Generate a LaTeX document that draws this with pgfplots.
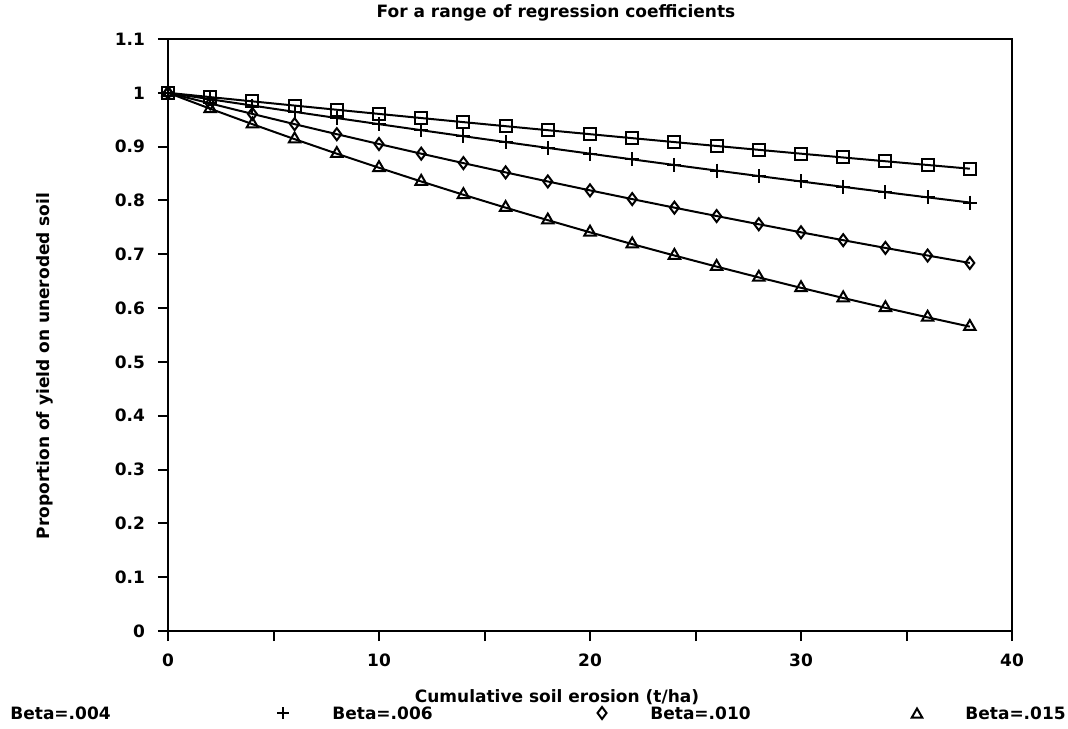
\documentclass[border=0pt]{standalone}
\usepackage{fontspec}
\setmainfont{DejaVu Sans}
\usepackage{pgfplots}
\usepackage{pgfplotstable}
\pgfplotsset{compat=1.18}

% proportion of yield, x = cumulative erosion (t/ha)
\pgfplotstableread{
x   b004    b006    b010    b015
0   1.00000 1.00000 1.00000 1.00000
2   0.99203 0.98807 0.98020 0.97045
4   0.98413 0.97629 0.96079 0.94176
6   0.97629 0.96464 0.94176 0.91393
8   0.96851 0.95313 0.92312 0.88692
10  0.96079 0.94176 0.90484 0.86071
12  0.95313 0.93053 0.88692 0.83527
14  0.94554 0.91943 0.86936 0.81058
16  0.93800 0.90846 0.85214 0.78663
18  0.93053 0.89762 0.83527 0.76338
20  0.92312 0.88692 0.81873 0.74082
22  0.91576 0.87634 0.80252 0.71892
24  0.90846 0.86589 0.78663 0.69768
26  0.90122 0.85556 0.77105 0.67706
28  0.89404 0.84535 0.75578 0.65705
30  0.88692 0.83527 0.74082 0.63763
32  0.87985 0.82531 0.72615 0.61878
34  0.87284 0.81546 0.71177 0.60050
36  0.86589 0.80574 0.69768 0.58275
38  0.85899 0.79612 0.68386 0.56553
}\yielddata

\newcommand{\legmark}[1]{\tikz{\pgfsetplotmarksize{3pt}\pgfsetlinewidth{1pt}\pgfuseplotmark{#1}}}

\begin{document}
\begin{tikzpicture}[font=\bfseries\fontsize{8.5}{10}\selectfont]
\useasboundingbox (-84pt,-48.5pt) rectangle (450pt,315.5pt);
\begin{axis}[
    at={(0pt,0pt)}, anchor=south west,
    scale only axis,
    width=422pt, height=296pt,
    xmin=0, xmax=40, ymin=0, ymax=1.1,
    axis line style={line width=1.1pt},
    tick align=outside,
    xtick pos=bottom, ytick pos=left,
    tick style={line width=1pt, black},
    major tick length=5pt,
    xtick={0,5,...,40},
    xticklabels={0,,10,,20,,30,,40},
    ytick={0,0.1,...,1.1},
    yticklabels={0,0.1,0.2,0.3,0.4,0.5,0.6,0.7,0.8,0.9,1,1.1},
    /pgf/number format/assume math mode=true,
    xticklabel style={yshift=-3pt},
    yticklabel style={xshift=-3pt},
    every axis plot/.append style={black, line width=1pt, mark size=3pt,
        mark options={solid, line width=1pt}},
]
\addplot[mark=square] table[x=x, y=b004] {\yielddata};
\addplot[mark=+, mark size=3.5pt] table[x=x, y=b006] {\yielddata};
\addplot[mark=diamond] table[x=x, y=b010] {\yielddata};
\addplot[mark=triangle, mark size=3.3pt] table[x=x, y=b015] {\yielddata};
\end{axis}
\node at (194pt,309pt) {For a range of regression coefficients};
\node[rotate=90] at (-61.5pt,132.5pt) {Proportion of yield on uneroded soil};
\node at (194.5pt,-33pt) {Cumulative soil erosion (t/ha)};
% legend row
\node[anchor=west, inner sep=0pt] at (-79pt,-41pt) {Beta=.004};
\node[inner sep=0pt] at (57.5pt,-41pt) {\legmark{+}};
\node[anchor=west, inner sep=0pt] at (82pt,-41pt) {Beta=.006};
\node[inner sep=0pt] at (217pt,-41pt) {\legmark{diamond}};
\node[anchor=west, inner sep=0pt] at (241pt,-41pt) {Beta=.010};
\node[inner sep=0pt] at (374.5pt,-41pt) {\legmark{triangle}};
\node[anchor=west, inner sep=0pt] at (398.5pt,-41pt) {Beta=.015};
\end{tikzpicture}
\end{document}
